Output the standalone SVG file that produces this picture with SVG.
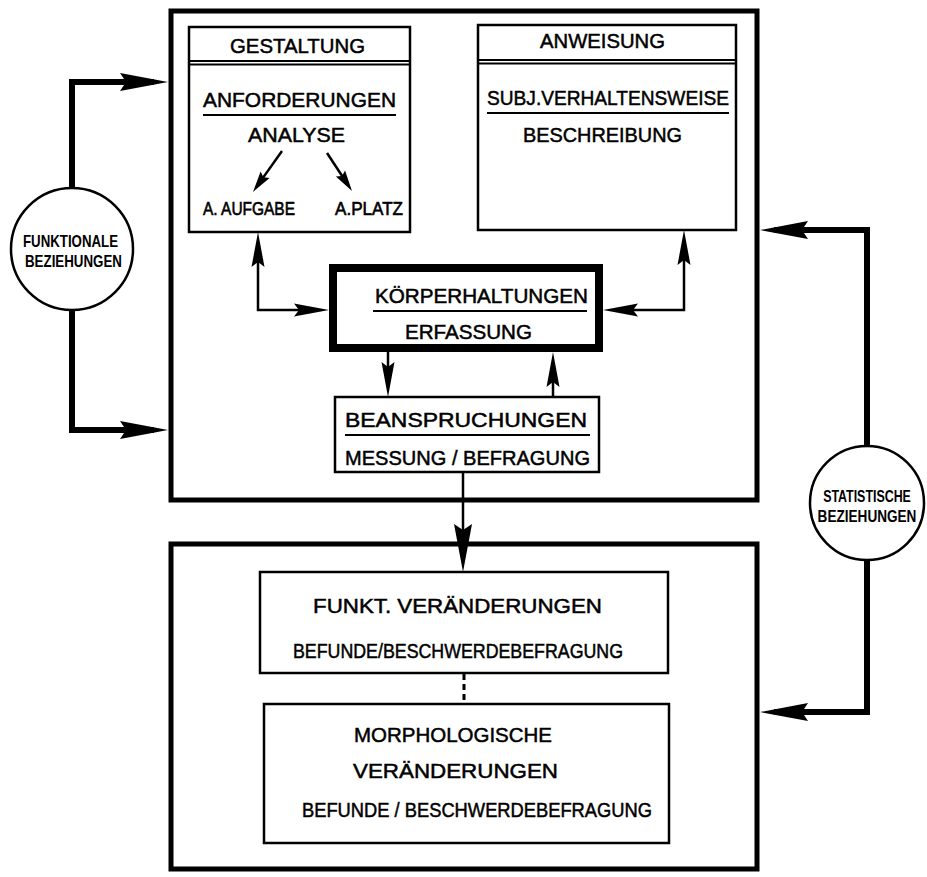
<svg xmlns="http://www.w3.org/2000/svg" width="927" height="877" viewBox="0 0 927 877">
<style>
.bg{fill:#fff}
.outer{fill:none;stroke:#000;stroke-width:5}
.box{fill:#fff;stroke:#000;stroke-width:2.5}
.thick{fill:#fff;stroke:#000;stroke-width:8}
.circ{fill:#fff;stroke:#000;stroke-width:2.5}
.rule{stroke:#000;stroke-width:2;fill:none}
.t{font-family:"Liberation Sans","DejaVu Sans",sans-serif;font-size:21px;fill:#000;stroke:#000;stroke-width:0.5}
.s{font-family:"Liberation Sans","DejaVu Sans",sans-serif;font-size:17px;font-weight:bold;fill:#000}
.c{font-family:"Liberation Sans","DejaVu Sans",sans-serif;font-size:18px;fill:#000;stroke:#000;stroke-width:0.6}
.ln{fill:none;stroke:#000;stroke-width:2.5}
.lnT{fill:none;stroke:#000;stroke-width:6;stroke-linejoin:miter}
.dash{fill:none;stroke:#000;stroke-width:3;stroke-dasharray:6 4}
</style>
<defs>
<marker id="a" markerUnits="userSpaceOnUse" viewBox="-26 -8 40 16" refX="0" refY="0" markerWidth="40" markerHeight="16" orient="auto-start-reverse">
<path d="M12,0 L-23,-6.5 L-18,0 L-23,6.5 Z" fill="#000"/>
</marker>
<marker id="b" markerUnits="userSpaceOnUse" viewBox="-36 -10 52 20" refX="0" refY="0" markerWidth="52" markerHeight="20" orient="auto-start-reverse">
<path d="M14,0 L-34,-9 L-28,0 L-34,9 Z" fill="#000"/>
</marker>
<marker id="c" markerUnits="userSpaceOnUse" viewBox="-16 -7 26 14" refX="0" refY="0" markerWidth="26" markerHeight="14" orient="auto">
<path d="M8,0 L-13,-5.5 L-10,0 L-13,5.5 Z" fill="#000"/>
</marker>
</defs>
<rect class="bg" x="0" y="0" width="927" height="877"/>

<g id="frame-top"><rect class="outer" x="171" y="11" width="586" height="489"/></g>
<g id="frame-bottom"><rect class="outer" x="171" y="544" width="586" height="325"/></g>

<g id="gestaltung">
<rect class="box" x="189" y="27" width="221" height="205"/>
<line class="rule" x1="189" y1="61" x2="410" y2="61"/>
<line class="rule" x1="189" y1="64.5" x2="410" y2="64.5"/>
<text class="t" x="230" y="53" textLength="135" lengthAdjust="spacingAndGlyphs">GESTALTUNG</text>
<text class="t" x="203" y="107" textLength="193" lengthAdjust="spacingAndGlyphs">ANFORDERUNGEN</text>
<line class="rule" x1="203" y1="115" x2="396" y2="115"/>
<text class="t" x="248" y="142" textLength="97" lengthAdjust="spacingAndGlyphs">ANALYSE</text>
<text class="c" x="203" y="215" textLength="92" lengthAdjust="spacingAndGlyphs">A. AUFGABE</text>
<text class="c" x="335" y="215" textLength="68" lengthAdjust="spacingAndGlyphs">A.PLATZ</text>
</g>

<g id="anweisung">
<rect class="box" x="478" y="25" width="258" height="205"/>
<line class="rule" x1="478" y1="60" x2="736" y2="60"/>
<line class="rule" x1="478" y1="63.5" x2="736" y2="63.5"/>
<text class="t" x="540" y="48" textLength="125" lengthAdjust="spacingAndGlyphs">ANWEISUNG</text>
<text class="t" x="487" y="105" textLength="242" lengthAdjust="spacingAndGlyphs">SUBJ.VERHALTENSWEISE</text>
<line class="rule" x1="487" y1="113" x2="729" y2="113"/>
<text class="t" x="523" y="142" textLength="159" lengthAdjust="spacingAndGlyphs">BESCHREIBUNG</text>
</g>

<g id="koerperhaltungen">
<rect class="thick" x="333" y="268" width="266" height="80"/>
<text class="t" x="375" y="303" font-size="23" textLength="213" lengthAdjust="spacingAndGlyphs">KÖRPERHALTUNGEN</text>
<line class="rule" x1="373" y1="311" x2="587" y2="311"/>
<text class="t" x="405" y="339" font-size="23" textLength="127" lengthAdjust="spacingAndGlyphs">ERFASSUNG</text>
</g>

<g id="beanspruchungen">
<rect class="box" x="335" y="397" width="264" height="75"/>
<text class="t" x="345" y="427" font-size="22" textLength="242" lengthAdjust="spacingAndGlyphs">BEANSPRUCHUNGEN</text>
<line class="rule" x1="345" y1="435" x2="590" y2="435"/>
<text class="t" x="345" y="465" font-size="23" textLength="245" lengthAdjust="spacingAndGlyphs">MESSUNG / BEFRAGUNG</text>
</g>

<g id="funkt">
<rect class="box" x="260" y="572" width="408" height="101"/>
<text class="t" x="313" y="613" font-size="22" textLength="289" lengthAdjust="spacingAndGlyphs">FUNKT. VERÄNDERUNGEN</text>
<text class="t" x="293" y="658" font-size="22" textLength="330" lengthAdjust="spacingAndGlyphs">BEFUNDE/BESCHWERDEBEFRAGUNG</text>
</g>

<g id="morph">
<rect class="box" x="264" y="704" width="405" height="139"/>
<text class="t" x="354" y="742" font-size="22" textLength="198" lengthAdjust="spacingAndGlyphs">MORPHOLOGISCHE</text>
<text class="t" x="353" y="778" font-size="22" textLength="205" lengthAdjust="spacingAndGlyphs">VERÄNDERUNGEN</text>
<text class="t" x="302" y="817" font-size="22" textLength="350" lengthAdjust="spacingAndGlyphs">BEFUNDE / BESCHWERDEBEFRAGUNG</text>
</g>

<g id="funktionale">
<circle class="circ" cx="72" cy="249" r="61"/>
<text class="s" x="23" y="247" textLength="95" lengthAdjust="spacingAndGlyphs">FUNKTIONALE</text>
<text class="s" x="25" y="267" textLength="97" lengthAdjust="spacingAndGlyphs">BEZIEHUNGEN</text>
</g>

<g id="statistische">
<circle class="circ" cx="867" cy="503" r="57"/>
<text class="s" transform="translate(867 502) scale(0.73 1)" font-size="16" text-anchor="middle">STATISTISCHE</text>
<text class="s" transform="translate(867 522) scale(0.8 1)" font-size="16" text-anchor="middle">BEZIEHUNGEN</text>
</g>

<g id="connectors">
<path class="lnT" d="M72,188 V82 H154" marker-end="url(#b)"/>
<path class="lnT" d="M72,310 V430 H154" marker-end="url(#b)"/>
<path class="lnT" d="M867,446 V230 H774" marker-end="url(#b)"/>
<path class="lnT" d="M867,560 V712 H774" marker-end="url(#b)"/>
<path class="ln" d="M258,244 V310 H317" marker-start="url(#a)" marker-end="url(#a)"/>
<path class="ln" d="M684,242 V310 H615" marker-start="url(#a)" marker-end="url(#a)"/>
<path class="ln" d="M388,352 V385" marker-end="url(#a)"/>
<path class="ln" d="M553,397 V364" marker-end="url(#a)"/>
<path class="ln" d="M463,472 V558" marker-end="url(#b)"/>
<path class="dash" d="M464,674 V703"/>
<path class="ln" d="M282,151 L257.6,185.4" marker-end="url(#c)"/>
<path class="ln" d="M327,153 L347.6,184.3" marker-end="url(#c)"/>
</g>
</svg>
